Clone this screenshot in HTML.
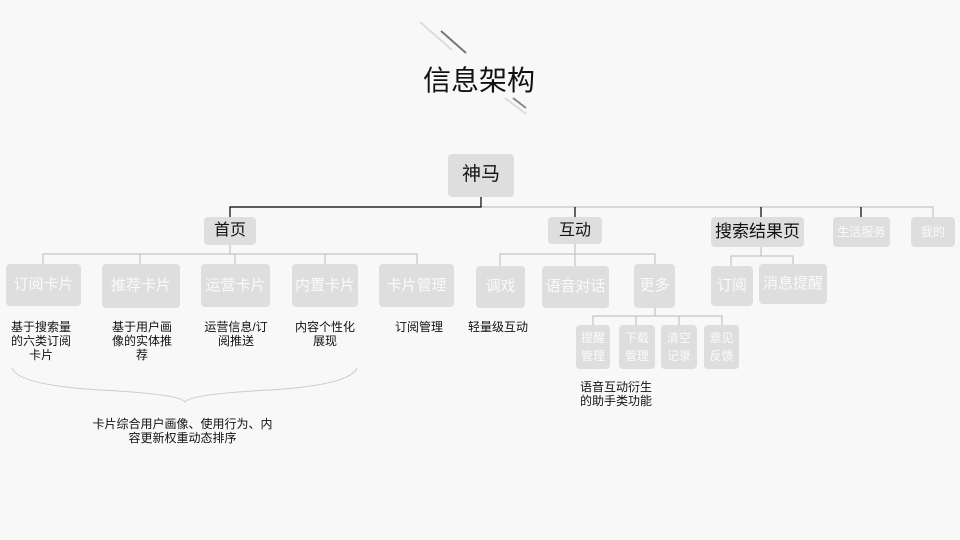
<!DOCTYPE html>
<html><head><meta charset="utf-8"><style>
*{margin:0;padding:0;box-sizing:border-box}
body{width:960px;height:540px;background:#f8f8f8;position:relative;overflow:hidden;font-family:"Liberation Sans","Noto Sans CJK SC",sans-serif}
.b{position:absolute;background:#dedede;border-radius:4px;display:flex;align-items:center;justify-content:center;text-align:center;color:#fafafa;font-size:15px;line-height:1.2}
.d{color:#111}
.t{position:absolute;font-size:12px;color:#111;text-align:center;line-height:14px}
svg{position:absolute;left:0;top:0}
</style></head><body>
<svg width="960" height="540">
<line x1="420" y1="22" x2="452" y2="50" stroke="#ddd" stroke-width="2"/>
<line x1="441" y1="31" x2="466" y2="53" stroke="#777" stroke-width="2"/>
<line x1="505" y1="98" x2="526" y2="114" stroke="#ddd" stroke-width="2"/>
<line x1="513" y1="98" x2="526" y2="108" stroke="#888" stroke-width="2"/>
<g stroke="#b8b8b8" fill="none" stroke-width="1">
<path d="M481 207H933V217"/>
<path d="M43 264V254H417V264M140 254V264M235 254V264M325 254V264M230 245V254"/>
<path d="M500 266V254H655V264M575 244V266M655 254V264"/>
<path d="M593 325V316H722V325M636 316V325M679 316V325M655 308V316"/>
<path d="M731 266V256H793V264M761 247V256"/>
<path d="M481 197V207"/>
</g>
<g stroke="#000" fill="none" stroke-width="1.2">
<path d="M481 197V207H230V217"/>
<path d="M575 207V217M761 207V217M861 207V217"/>
</g>
<path d="M12 368Q18 385 100 390Q180 394 185 402Q190 394 270 390Q350 385 357 368" stroke="#ccc" fill="none"/>
<text x="479" y="90" text-anchor="middle" font-size="28" fill="#111" font-family="Liberation Sans, Noto Sans CJK SC, sans-serif">信息架构</text>
</svg>
<div class="b d" style="left:448px;top:154px;width:66px;height:43px;font-size:19px">神马</div>
<div class="b d" style="left:204px;top:217px;width:52px;height:28px;font-size:16px">首页</div>
<div class="b d" style="left:548px;top:217px;width:54px;height:27px;font-size:16px">互动</div>
<div class="b d" style="left:711px;top:217px;width:93px;height:30px;font-size:17px">搜索结果页</div>
<div class="b" style="left:833px;top:217px;width:57px;height:30px;font-size:12px">生活服务</div>
<div class="b" style="left:911px;top:217px;width:44px;height:30px;font-size:12px">我的</div>
<div class="b" style="left:6px;top:264px;width:75px;height:42px">订阅卡片</div>
<div class="b" style="left:102px;top:264px;width:78px;height:44px">推荐卡片</div>
<div class="b" style="left:201px;top:264px;width:69px;height:43px">运营卡片</div>
<div class="b" style="left:292px;top:264px;width:66px;height:43px">内置卡片</div>
<div class="b" style="left:379px;top:264px;width:75px;height:43px">卡片管理</div>
<div class="b" style="left:476px;top:266px;width:49px;height:42px">调戏</div>
<div class="b" style="left:542px;top:266px;width:67px;height:42px">语音对话</div>
<div class="b" style="left:634px;top:264px;width:41px;height:44px">更多</div>
<div class="b" style="left:711px;top:266px;width:42px;height:40px">订阅</div>
<div class="b" style="left:759px;top:264px;width:68px;height:40px">消息提醒</div>
<div class="b" style="left:576px;top:325px;width:34px;height:44px;font-size:12px;line-height:18px">提醒<br>管理</div>
<div class="b" style="left:619px;top:325px;width:36px;height:44px;font-size:12px;line-height:18px">下载<br>管理</div>
<div class="b" style="left:661px;top:325px;width:36px;height:44px;font-size:12px;line-height:18px">清空<br>记录</div>
<div class="b" style="left:704px;top:325px;width:35px;height:44px;font-size:12px;line-height:18px">意见<br>反馈</div>
<div class="t" style="left:6px;top:320px;width:70px">基于搜索量<br>的六类订阅<br>卡片</div>
<div class="t" style="left:107px;top:320px;width:70px">基于用户画<br>像的实体推<br>荐</div>
<div class="t" style="left:200px;top:320px;width:72px">运营信息/订<br>阅推送</div>
<div class="t" style="left:290px;top:320px;width:70px">内容个性化<br>展现</div>
<div class="t" style="left:384px;top:320px;width:70px">订阅管理</div>
<div class="t" style="left:463px;top:320px;width:70px">轻量级互动</div>
<div class="t" style="left:580px;top:380px;text-align:left">语音互动衍生<br>的助手类功能</div>
<div class="t" style="left:90px;top:417px;width:185px">卡片综合用户画像、使用行为、内<br>容更新权重动态排序</div>
</body></html>
